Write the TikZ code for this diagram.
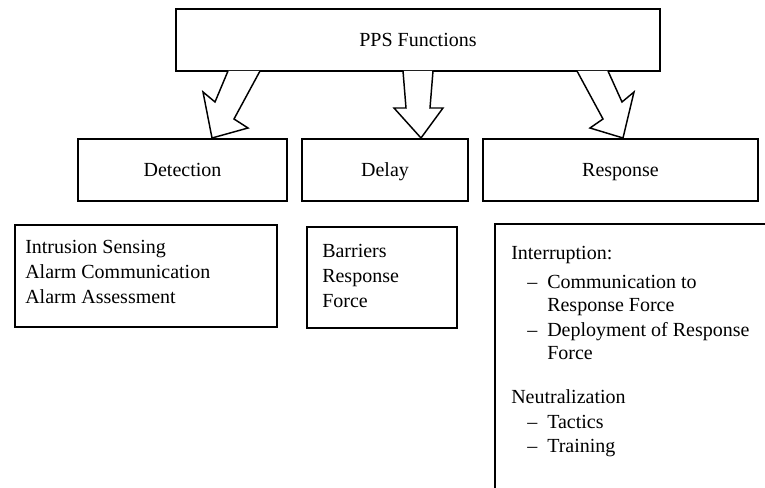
\documentclass[tikz,border=0pt]{standalone}
\usepackage{fontspec}
\setmainfont{Liberation Serif}
\usetikzlibrary{fit}
\begin{document}
\begin{tikzpicture}[x=0.75pt,y=-0.75pt,
  box/.style={draw=black,line width=1.5pt,inner sep=0pt,fill=white},
  lbl/.style={font=\fontsize{15}{18}\selectfont,inner sep=0pt,text height=0.7em,text depth=0.25em,yshift=-3pt},
  item/.style={font=\fontsize{15}{18}\selectfont,inner sep=0pt,anchor=west,text height=0.7em,text depth=0.25em},
  blockarrow/.style={draw=black,line width=1.1pt,fill=white,line join=miter}]
\useasboundingbox (0,0) rectangle (765,488);
% top box
\node[box,fit={(176,9)(660,71)}] (top) {};
\node[lbl] (toplbl) at (top.center) {PPS Functions};
% second row
\node[box,fit={(78,139)(287,201)}] (det) {};
\node[lbl] (detlbl) at (det.center) {Detection};
\node[box,fit={(302,139)(468,201)}] (del) {};
\node[lbl] (dellbl) at (del.center) {Delay};
\node[box,fit={(483,139)(758,201)}] (resp) {};
\node[lbl] (resplbl) at (resp.center) {Response};
% block arrows
\draw[blockarrow] (228,71) -- (215,102) -- (203,92) -- (212,138) -- (248,128) -- (234,119) -- (260,71);
\draw[blockarrow] (403,71) -- (406,108) -- (394,108) -- (421,138) -- (443,108) -- (430,108) -- (433,71);
\draw[blockarrow] (608,71) -- (622,102) -- (634,92) -- (623,138) -- (590,128) -- (603,119) -- (577,71);
% list boxes
\node[box,fit={(15,225)(277,327)}] (detlist) {};
\node[item] (d1) at (25,251) {Intrusion Sensing};
\node[item] (d2) at (25,276) {Alarm Communication};
\node[item] (d3) at (25,301) {Alarm Assessment};
\node[box,fit={(307,227)(457,328)}] (dellist) {};
\node[item] (e1) at (322,255) {Barriers};
\node[item] (e2) at (322,280) {Response};
\node[item] (e3) at (322,305) {Force};
% response list (open at right and bottom)
\coordinate (rtr) at (765,224);
\coordinate (rtl) at (495,224);
\coordinate (rbl) at (495,488);
\draw[line width=1.5pt] (rtr) -- (rtl) -- (rbl);
\node[item] (r1) at (511,257) {Interruption:};
\node[item] (r2a) at (527,286) {–};
\node[item] (r2) at (547,286) {Communication to};
\node[item] (r3) at (547,309) {Response Force};
\node[item] (r4a) at (527,334) {–};
\node[item] (r4) at (547,334) {Deployment of Response};
\node[item] (r5) at (547,357) {Force};
\node[item] (r6) at (511,401) {Neutralization};
\node[item] (r7a) at (527,426) {–};
\node[item] (r7) at (547,426) {Tactics};
\node[item] (r8a) at (527,450) {–};
\node[item] (r8) at (547,450) {Training};
\end{tikzpicture}
\end{document}
